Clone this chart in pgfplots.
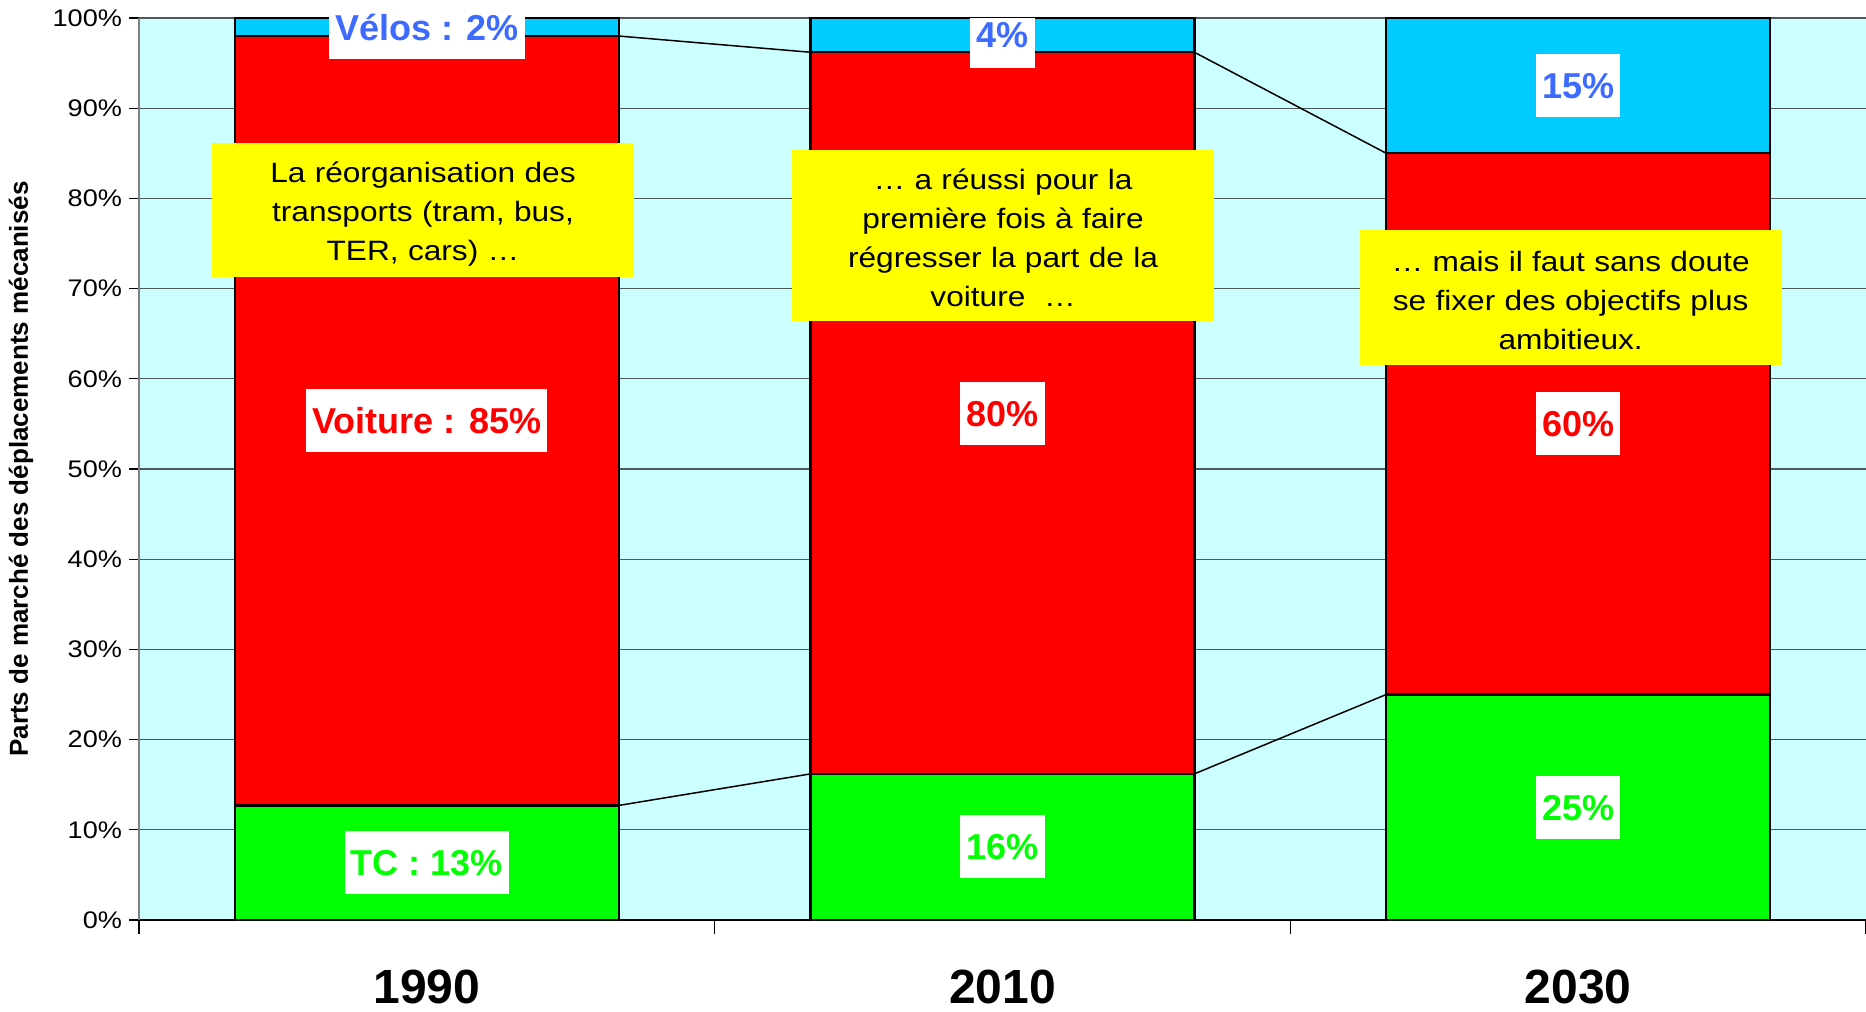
\documentclass[border=0pt]{standalone}
\usepackage{fontspec}
\setmainfont{Liberation Sans}
\newfontfamily\widefont[FakeStretch=1.13]{Liberation Sans}
\usepackage{pgfplots}
\pgfplotsset{compat=1.18}
\definecolor{bgc}{HTML}{CCFFFF}
\definecolor{tcgreen}{HTML}{00FF00}
\definecolor{voitred}{HTML}{FF0000}
\definecolor{velocyan}{HTML}{00CCFF}
\definecolor{lblblue}{HTML}{3D6BFF}
\definecolor{annyellow}{HTML}{FFFF00}
\definecolor{gridc}{HTML}{4D5A5A}
\begin{document}
\begin{tikzpicture}
\pgfplotsset{
  base/.style={
    scale only axis, width=863.5bp, height=451bp,
    xmin=0, xmax=3, ymin=0, ymax=100,
    at={(0,0)}, anchor=south west,
  },
}
\tikzset{
  dl/.style={fill=white, font=\bfseries\fontsize{18bp}{20bp}\selectfont,
    inner xsep=3bp, inner ysep=9.25bp, text height=13bp, text depth=0bp, outer sep=0pt},
  annbox/.style={fill=annyellow, draw=none, minimum width=211bp, inner sep=0pt, outer sep=0pt},
  ann/.style={font=\widefont\fontsize{14bp}{19.5bp}\selectfont,
    align=center, text width=211bp, inner xsep=0pt, inner ysep=0pt, outer sep=0pt},
}
\begin{axis}[base,
  ybar stacked, bar width=0.6667,
  axis background/.style={fill=bgc},
  axis x line*=bottom, axis y line*=left,
  x axis line style={black, line width=0.9bp},
  y axis line style={gray, line width=0.9bp},
  tick align=outside,
  ytick={0,10,...,100},
  /pgf/number format/assume math mode=true,
  yticklabel={\pgfmathprintnumber{\tick}\%},
  yticklabel style={font=\widefont\fontsize{12bp}{14bp}\selectfont},
  major tick length=5bp, minor tick length=7bp,
  tick style={black, line width=0.6bp},
  ymajorgrids, grid style={gridc, line width=0.6bp},
  xtick={0.5,1.5,2.5}, xticklabels={1990,2010,2030},
  major x tick style={draw=none},
  minor xtick={0,1,2,3},
  xticklabel style={font=\bfseries\fontsize{24bp}{26bp}\selectfont, anchor=base, yshift=-36.5bp},
  ylabel={Parts de marché des déplacements mécanisés},
  ylabel style={at={(axis description cs:-0.06833,0.5)}, anchor=center,
    font=\bfseries\fontsize{13bp}{15bp}\selectfont},
]
\addplot[fill=tcgreen, draw=black, line width=1.2bp] coordinates {(0.5,12.7) (1.5,16.2) (2.5,25)};
\addplot[fill=voitred, draw=black, line width=1.2bp] coordinates {(0.5,85.3) (1.5,80) (2.5,60)};
\addplot[fill=velocyan, draw=black, line width=1.2bp] coordinates {(0.5,2) (1.5,3.8) (2.5,15)};
\end{axis}
\begin{axis}[base, hide axis, clip=false]
\addplot[black, line width=0.75bp] coordinates {(0.8333,12.7) (1.1667,16.2)};
\addplot[black, line width=0.75bp] coordinates {(1.8333,16.2) (2.1667,25)};
\addplot[black, line width=0.75bp] coordinates {(0.8333,98) (1.1667,96.2)};
\addplot[black, line width=0.75bp] coordinates {(1.8333,96.2) (2.1667,85)};
\node[dl, text=tcgreen] at (axis cs:0.5,6.35) {TC : 13\%};
\node[dl, text=voitred] at (axis cs:0.5,55.35) {Voiture : 85\%};
\node[dl, text=lblblue, anchor=north, inner ysep=0pt, text height=20.4bp, text depth=9bp, yshift=9bp] at (axis cs:0.5,100) {Vélos : 2\%};
\node[dl, text=lblblue, anchor=north, inner ysep=0pt, text height=14.9bp, text depth=10bp] at (axis cs:1.5,100) {4\%};
\node[dl, text=voitred] at (axis cs:1.5,56.2) {80\%};
\node[dl, text=tcgreen] at (axis cs:1.5,8.1) {16\%};
\node[dl, text=lblblue] at (axis cs:2.5,92.5) {15\%};
\node[dl, text=voitred] at (axis cs:2.5,55) {60\%};
\node[dl, text=tcgreen] at (axis cs:2.5,12.5) {25\%};
\node[annbox, minimum height=67bp] at (axis cs:0.4933,78.7) {};
\node[ann, yshift=-2.2bp] at (axis cs:0.4933,78.7) {La réorganisation des\\transports (tram, bus,\\TER, cars) …};
\node[annbox, minimum height=85.5bp] at (axis cs:1.501,75.9) {};
\node[ann, yshift=-1.2bp] at (axis cs:1.501,75.9) {… a réussi pour la\\première fois à faire\\régresser la part de la\\voiture \ …};
\node[annbox, minimum height=67.5bp] at (axis cs:2.487,69.0) {};
\node[ann, yshift=-1.2bp] at (axis cs:2.487,69.0) {… mais il faut sans doute\\se fixer des objectifs plus\\ambitieux.};
\end{axis}
\pgfresetboundingbox
\path[use as bounding box] (-69.5bp,-46bp) rectangle (863.5bp,460bp);
\end{tikzpicture}
\end{document}
